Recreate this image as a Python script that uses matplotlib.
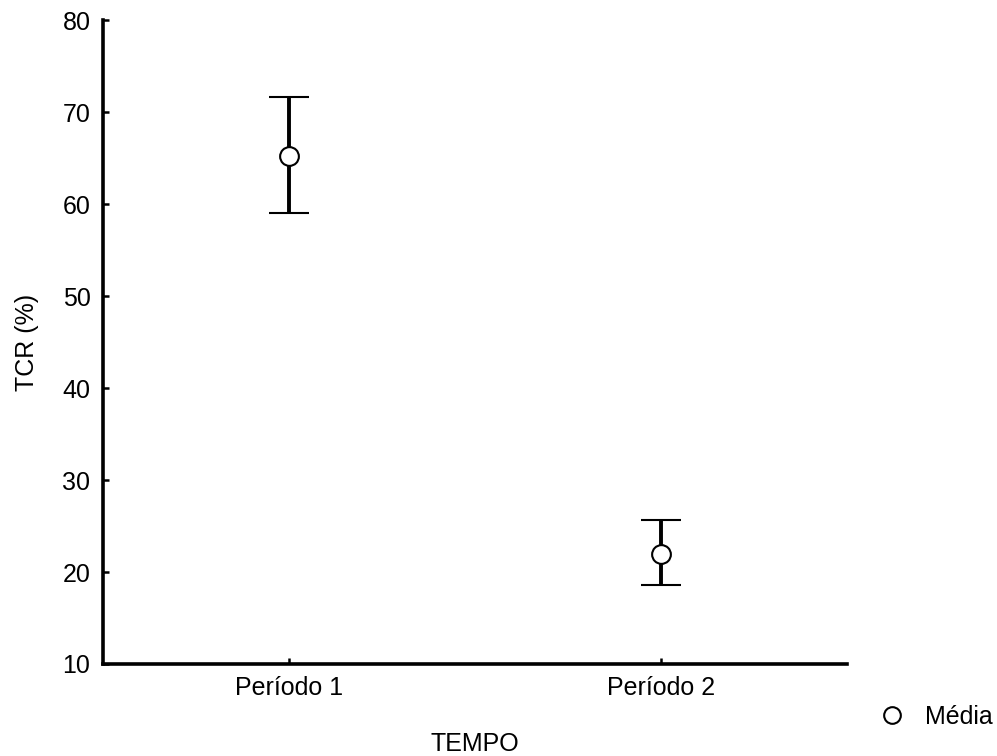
import matplotlib.pyplot as plt
from matplotlib.lines import Line2D

plt.rcParams['font.family'] = ['Liberation Sans', 'DejaVu Sans']

periods = ["Período 1", "Período 2"]
means = [65.2, 22.0]
upper = [71.6, 25.65]
lower = [59.0, 18.6]

err_lo = [m - l for m, l in zip(means, lower)]
err_hi = [u - m for u, m in zip(upper, means)]

fig = plt.figure(figsize=(9.97, 7.56), dpi=100)
ax = fig.add_axes([0.1033, 0.1217, 0.7463, 0.8518])

x = list(range(len(periods)))
ax.errorbar(x, means, yerr=[err_lo, err_hi], fmt='o', color='black',
            ecolor='black', elinewidth=2.8, capsize=14.5, capthick=2.8,
            markerfacecolor='white', markeredgecolor='black',
            markersize=13.5, markeredgewidth=1.5, zorder=3)

ax.set_xlim(-0.5, 1.5)
ax.set_ylim(10, 80)
ax.set_yticks(range(10, 81, 10))
ax.set_xticks(x)
ax.set_xticklabels(periods)

for side in ('top', 'right'):
    ax.spines[side].set_visible(False)
for side in ('left', 'bottom'):
    ax.spines[side].set_linewidth(2.6)

fs = 18
ax.tick_params(direction='in', length=4, width=1.8, labelsize=fs, pad=9)
ax.set_xlabel("TEMPO", fontsize=fs, labelpad=23)
ax.set_ylabel("TCR (%)", fontsize=fs, labelpad=17)

handle = Line2D([], [], marker='o', linestyle='none', markerfacecolor='white',
                markeredgecolor='black', markersize=12, markeredgewidth=1.5)
fig.legend([handle], ["Média"], loc='center left', bbox_to_anchor=(0.86, 0.052),
           frameon=False, fontsize=fs, handletextpad=0.3, borderaxespad=0)

fig.savefig("out.png", dpi=100)
